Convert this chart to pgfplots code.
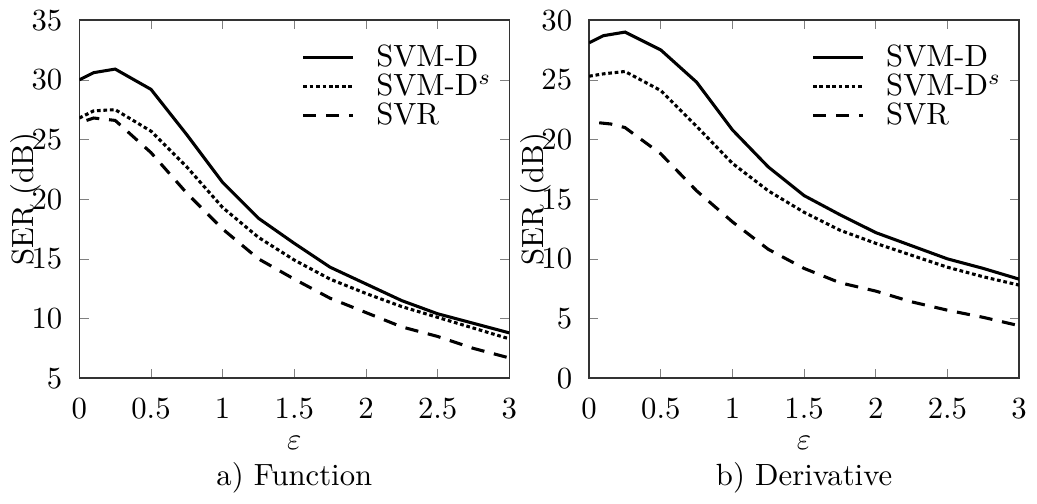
\documentclass[border=0pt]{standalone}
\usepackage{pgfplots}
\pgfplotsset{compat=1.18}
\begin{document}
\begin{tikzpicture}
\pgfplotsset{
  serstyle/.style={
    scale only axis,
    width=140pt, height=116.6pt,
    xmin=0, xmax=3,
    xtick={0,0.5,...,3},
    xticklabels={0,0.5,1,1.5,2,2.5,3},
    tick align=inside,
    axis line style={line width=0.5pt, black!80},
    major tick length=3pt,
    yticklabel style={xshift=-2pt},
    xticklabel style={yshift=-3pt},
    ylabel={SER (dB)},
    ylabel style={at={(axis description cs:-0.125,0.5)}, anchor=center},
    xlabel style={align=center, yshift=1.5pt},
    legend style={draw=none, fill=none, at={(0.985,0.955)}, anchor=north east,
      row sep=0pt, font=\normalsize,
      nodes={inner sep=0.5pt, text height=7pt, text depth=1.5pt}},
    legend cell align=left,
    legend image code/.code={
      \draw[#1] (0cm,0cm) -- (0.57cm,0cm);
      \path[draw=none, fill=none, use as bounding box] (0cm,-0.1cm) rectangle (0.82cm,0.1cm);},
  },
  svmd/.style={black, line width=1pt},
  svmds/.style={black, line width=1pt, dash pattern=on 1.2pt off 0.9pt},
  svr/.style={black, line width=1pt, dash pattern=on 4.3pt off 3.2pt},
}
\begin{axis}[serstyle, ymin=5, ymax=35, ytick={5,10,...,35},
  xlabel={$\varepsilon$\\a) Function}]
  \addplot[svmd] coordinates {
    (0,30.0) (0.1,30.6) (0.25,30.9) (0.5,29.2) (0.75,25.4) (1,21.4)
    (1.25,18.4) (1.5,16.3) (1.75,14.3) (2,12.9) (2.25,11.5) (2.5,10.4)
    (2.75,9.6) (3,8.8)};
  \addlegendentry{SVM-D}
  \addplot[svmds] coordinates {
    (0,26.8) (0.1,27.4) (0.25,27.5) (0.5,25.7) (0.75,22.7) (1,19.3)
    (1.25,16.8) (1.5,14.9) (1.75,13.3) (2,12.1) (2.25,11.0) (2.5,10.1)
    (2.75,9.2) (3,8.3)};
  \addlegendentry{SVM-D$^s$}
  \addplot[svr] coordinates {
    (0.05,26.6) (0.1,26.8) (0.25,26.6) (0.5,23.9) (0.75,20.5) (1,17.5)
    (1.25,15.0) (1.5,13.3) (1.75,11.7) (2,10.5) (2.25,9.3) (2.5,8.5)
    (2.75,7.5) (3,6.7)};
  \addlegendentry{SVR}
\end{axis}
\begin{axis}[serstyle, xshift=166pt, ymin=0, ymax=30, ytick={0,5,...,30},
  xlabel={$\varepsilon$\\b) Derivative}]
  \addplot[svmd] coordinates {
    (0,28.1) (0.1,28.7) (0.25,29.0) (0.5,27.5) (0.75,24.8) (1,20.8)
    (1.25,17.7) (1.5,15.3) (1.75,13.7) (2,12.2) (2.25,11.1) (2.5,10.0)
    (2.75,9.2) (3,8.3)};
  \addlegendentry{SVM-D}
  \addplot[svmds] coordinates {
    (0,25.3) (0.1,25.5) (0.25,25.7) (0.5,24.1) (0.75,21.1) (1,18.0)
    (1.25,15.7) (1.5,13.9) (1.75,12.4) (2,11.3) (2.25,10.3) (2.5,9.3)
    (2.75,8.5) (3,7.8)};
  \addlegendentry{SVM-D$^s$}
  \addplot[svr] coordinates {
    (0.07,21.4) (0.15,21.3) (0.25,21.0) (0.5,18.8) (0.75,15.7) (1,13.1)
    (1.25,10.8) (1.5,9.2) (1.75,8.0) (2,7.3) (2.25,6.4) (2.5,5.7)
    (2.75,5.1) (3,4.4)};
  \addlegendentry{SVR}
\end{axis}
\end{tikzpicture}
\end{document}
